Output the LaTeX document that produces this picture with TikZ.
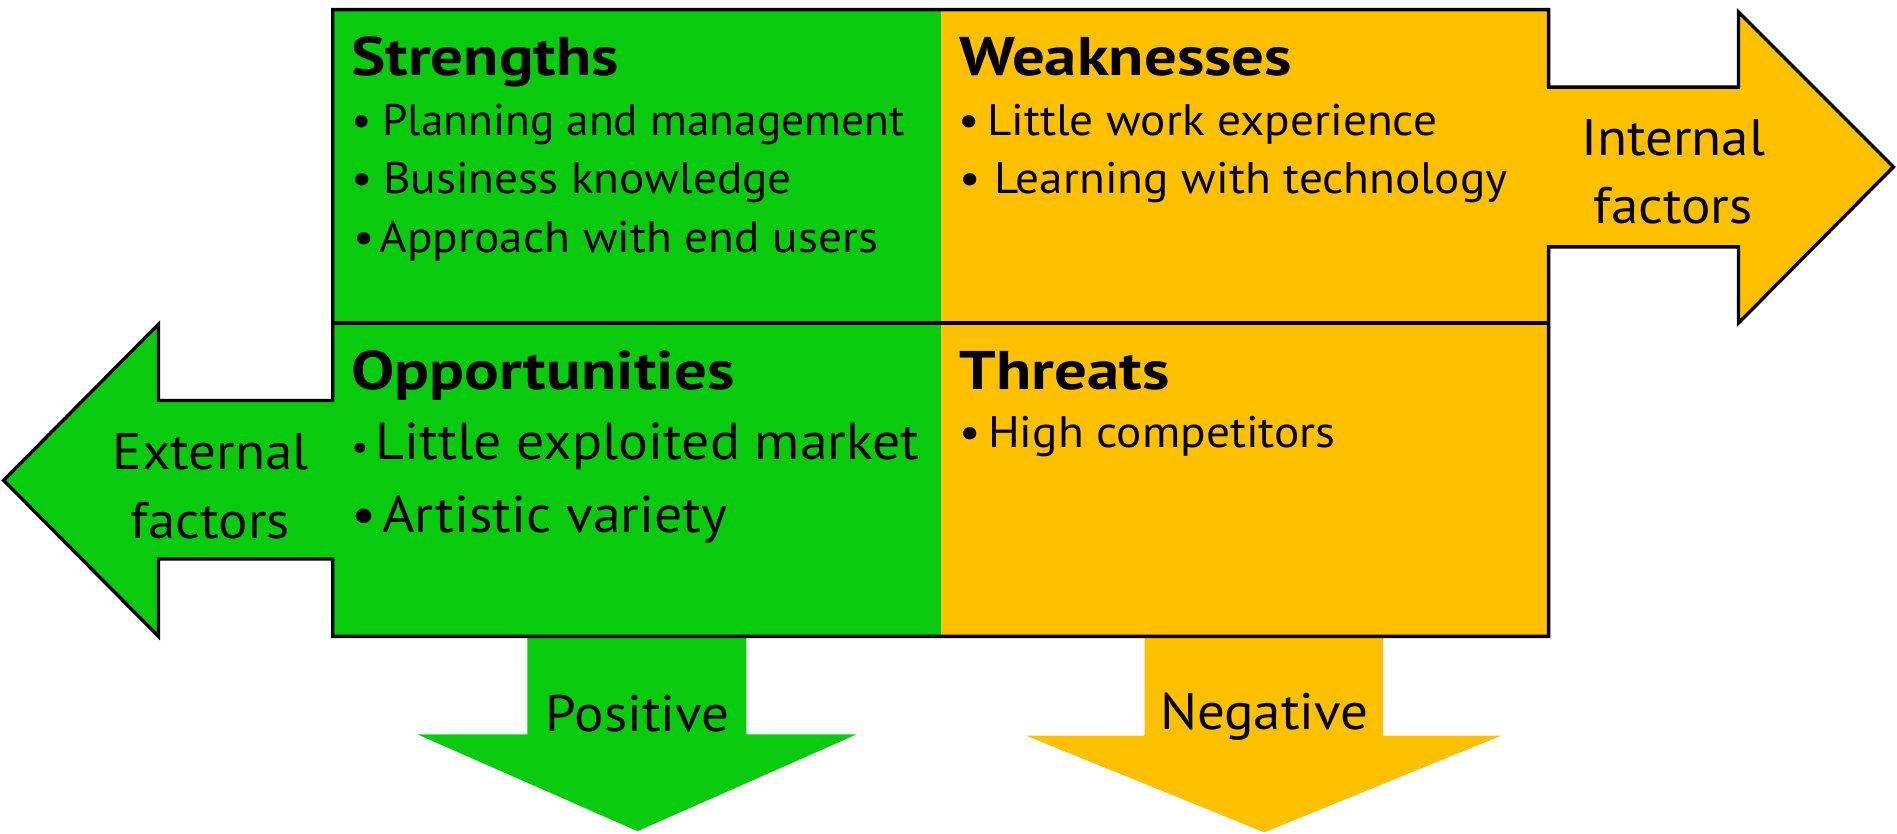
\documentclass[tikz,border=0pt]{standalone}
\usepackage{fontspec}
\setmainfont{PT Sans}
% slightly widened faces for headings and body text
\newfontfamily\titlefont[FakeStretch=1.19]{PT Sans}
\newfontfamily\bodyfont[FakeStretch=1.07]{PT Sans}
\newfontfamily\tightfont[FakeStretch=1.027]{PT Sans}
\definecolor{swotgreen}{RGB}{9,203,14}
\definecolor{swotorange}{RGB}{255,192,0}
\begin{document}
\begin{tikzpicture}[x=1pt,y=-1pt,
  outline/.style={draw=black,line width=2.8pt,line join=miter},
  title/.style={anchor=base west,inner sep=0pt,font=\titlefont\fontsize{45}{50}\selectfont\bfseries},
  item/.style={anchor=base west,inner sep=0pt,font=\bodyfont\fontsize{36.5}{40}\selectfont},
  bigitem/.style={anchor=base west,inner sep=0pt,font=\bodyfont\fontsize{43}{48}\selectfont},
  label/.style={anchor=center,inner sep=0pt,align=center,font=\bodyfont\fontsize{42.5}{57}\selectfont},
]
\useasboundingbox (0,0) rectangle (1568,689);

% green half: left column and the left-pointing arrow
\fill[swotgreen] (275,8) -- (778,8) -- (778,526) -- (275,526) -- (275,462)
  -- (131,462) -- (131,526) -- (3,397) -- (131,268) -- (131,331) -- (275,331) -- cycle;
% orange half: right column and the right-pointing arrow
\fill[swotorange] (778,8) -- (1280,8) -- (1280,72) -- (1437,72) -- (1437,10)
  -- (1565,138) -- (1437,267) -- (1437,204) -- (1280,204) -- (1280,526) -- (778,526) -- cycle;

% down arrows
\fill[swotgreen] (436,526) -- (617,526) -- (617,607) -- (708,607) -- (527,687)
  -- (345,607) -- (436,607) -- cycle;
\fill[swotorange] (946,526) -- (1143,526) -- (1143,608) -- (1241,608) -- (1045,688)
  -- (848,608) -- (946,608) -- cycle;

% common outline
\draw[outline] (275,8) -- (1280,8) -- (1280,72) -- (1437,72) -- (1437,10)
  -- (1565,138) -- (1437,267) -- (1437,204) -- (1280,204) -- (1280,526)
  -- (275,526) -- (275,462) -- (131,462) -- (131,526) -- (3,397) -- (131,268)
  -- (131,331) -- (275,331) -- cycle;
\draw[outline] (275,267) -- (1280,267);

% quadrant titles
\node[title] (s) at (290,62) {Strengths};
\node[title] (w) at (793,62) {Weaknesses};
\node[title] (o) at (290,322) {Opportunities};
\node[title] (t) at (793,322) {Threats};

% strengths
\node[item,font=\tightfont\fontsize{36.5}{40}\selectfont] (s1) at (290,112) {•\hspace{9pt}Planning and management};
\node[item] (s2) at (290,160) {•\hspace{9pt}Business knowledge};
\node[item] (s3) at (292,209) {•\hspace{4pt}Approach with end users};
% weaknesses
\node[item] (w1) at (792,112) {•\hspace{6pt}Little work experience};
\node[item] (w2) at (793,160) {•\hspace{11pt}Learning with technology};
% opportunities
\node[bigitem] (o1) at (290,380) {{\fontsize{30}{30}\selectfont•}\hspace{6pt}Little exploited market};
\node[bigitem] (o2) at (290,440) {•\hspace{5pt}Artistic variety};
% threats
\node[item] (t1) at (793,370) {•\hspace{6pt}High competitors};

% arrow labels
\node[label] (internal) at (1383,142) {Internal\\factors};
\node[label] (external) at (174,402) {External\\factors};
\node[label] (pos) at (527,590) {Positive};
\node[label] (neg) at (1045,592) {Negative};
\end{tikzpicture}
\end{document}
